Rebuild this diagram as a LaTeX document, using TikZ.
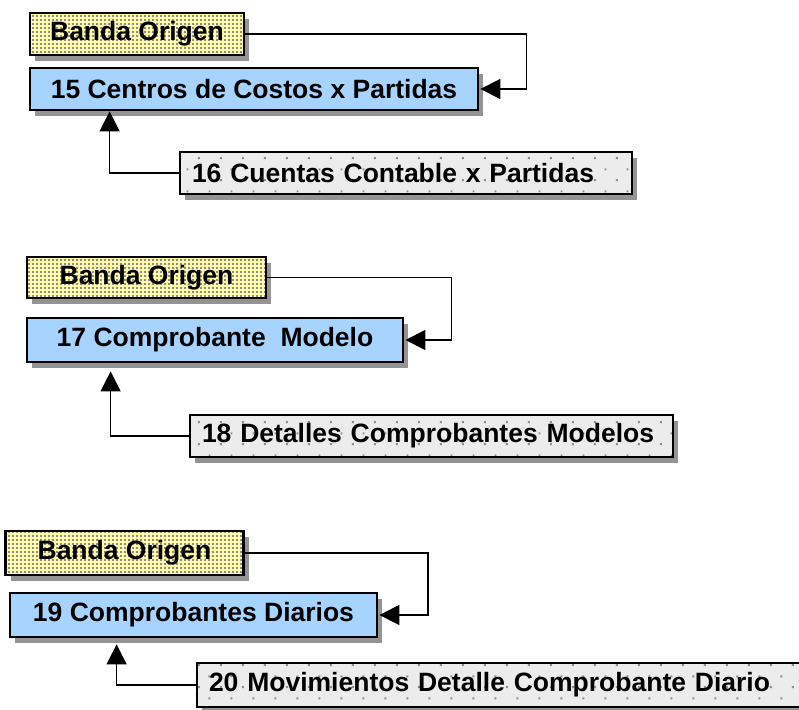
\documentclass[tikz,border=0pt]{standalone}
\usepackage{fontspec}
\setmainfont{Liberation Sans}
\usetikzlibrary{arrows.meta,shadows,patterns}
\definecolor{ybg}{RGB}{255,250,165}
\definecolor{bbg}{RGB}{166,212,255}
\definecolor{gbg}{RGB}{236,236,236}
\definecolor{dotc}{RGB}{140,140,140}
\pgfdeclarepatternformonly{densedots}{\pgfqpoint{-1pt}{-1pt}}{\pgfqpoint{3pt}{3pt}}{\pgfqpoint{4pt}{4pt}}{\pgfpathrectangle{\pgfqpoint{0pt}{0pt}}{\pgfqpoint{1.7pt}{1.7pt}}\pgfusepath{fill}}
\pgfdeclarepatternformonly{sparsedots}{\pgfqpoint{-1pt}{-1pt}}{\pgfqpoint{21pt}{21pt}}{\pgfqpoint{22pt}{22pt}}{\pgfpathrectangle{\pgfqpoint{0pt}{0pt}}{\pgfqpoint{2pt}{2pt}}\pgfpathrectangle{\pgfqpoint{11pt}{11pt}}{\pgfqpoint{2pt}{2pt}}\pgfusepath{fill}}
\tikzset{
  basebox/.style={draw=black, line width=2.8pt, rectangle, inner sep=0pt,
    font=\fontsize{26.5}{30}\selectfont\bfseries,
    drop shadow={shadow xshift=5pt, shadow yshift=-6pt, fill=black!42, opacity=1}},
  ybox/.style={basebox, preaction={fill=ybg}, pattern=densedots, pattern color=dotc},
  bbox/.style={basebox, fill=bbg},
  gbox/.style={basebox, preaction={fill=gbg}, pattern=sparsedots, pattern color=dotc,
    align=left, inner xsep=12pt},
  conn/.style={draw=black, line width=1.3pt, -{Triangle[length=20pt,width=20pt]}, shorten >=1pt},
}
\begin{document}
\begin{tikzpicture}[x=1pt,y=-1pt]
\clip (0,0) rectangle (799,709);
\fill[white] (0,0) rectangle (799,709);
% group 1
\node[ybox, minimum width=214pt, minimum height=42pt] (b1) at (137,34) {Banda Origen};
\node[bbox, minimum width=448pt, minimum height=42pt] (c15) at (254,89) {15 Centros de Costos x Partidas};
\node[gbox, text width=428pt, minimum height=42pt] (c16) at (406,173) {16 Cuentas Contable x Partidas};
\draw[conn] (b1.east) -- ++(281,0) |- (c15.east);
\draw[conn, shorten >=0pt] (c16.west) -| ([xshift=81pt]c15.south west);
% group 2
\node[ybox, minimum width=239pt, minimum height=41pt] (b2) at (146.5,277.5) {Banda Origen};
\node[bbox, minimum width=376pt, minimum height=44pt] (c17) at (215,340) {17 Comprobante\ \ Modelo};
\node[gbox, text width=459pt, minimum height=42pt] (c18) at (431.5,436) {18 Detalles Comprobantes Modelos};
\draw[conn] (b2.east) -- ++(184,0) |- (c17.east);
\draw[conn, shorten >=8pt] (c18.west) -| ([xshift=85pt]c17.south west);
% group 3
\node[ybox, minimum width=238pt, minimum height=44pt] (b3) at (124.5,553) {Banda Origen};
\node[bbox, minimum width=367pt, minimum height=44pt] (c19) at (193.5,615) {19 Comprobantes Diarios};
\node[gbox, text width=640pt, minimum height=44pt] (c20) at (529,685) {20 Movimientos Detalle Comprobante Diario};
\draw[conn] (b3.east) -- ++(183,0) |- (c19.east);
\draw[conn, shorten >=6pt] (c20.west) -| ([xshift=108pt]c19.south west);
\end{tikzpicture}
\end{document}
